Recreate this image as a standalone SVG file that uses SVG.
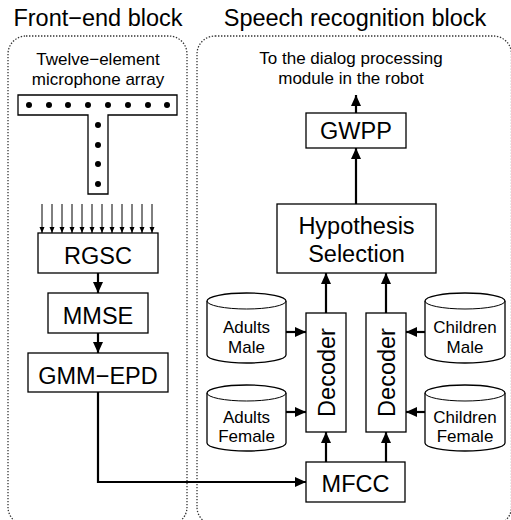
<svg xmlns="http://www.w3.org/2000/svg" width="511" height="520" viewBox="0 0 511 520">
  <style>
    .t{font-family:"Liberation Sans",Arial,Helvetica,sans-serif;fill:#000;text-anchor:middle}
    .big{font-size:23.5px}
    .small{font-size:17px}
    .box{fill:#fff;stroke:#000;stroke-width:1.3}
    .wire{stroke:#000;stroke-width:2.2;fill:none}
    .thin{stroke:#000;stroke-width:1;fill:none}
    .frame{fill:none;stroke:#333;stroke-width:1.3;stroke-dasharray:1.4 1.6}
    .dot{fill:#000}
  </style>
  <defs>
    <marker id="ah" markerUnits="userSpaceOnUse" markerWidth="12" markerHeight="12" viewBox="0 0 12 12" refX="11" refY="6" orient="auto">
      <path d="M0,1 L11,6 L0,11 z" fill="#000"/>
    </marker>
    <marker id="sah" markerUnits="userSpaceOnUse" markerWidth="7" markerHeight="7" viewBox="0 0 7 7" refX="6.5" refY="3.5" orient="auto">
      <path d="M0,0.8 L6.5,3.5 L0,6.2 z" fill="#000"/>
    </marker>
  </defs>
  <rect width="511" height="520" fill="#fff"/>

  <!-- block frames -->
  <g id="frontend-block">
    <rect class="frame" x="8" y="36" width="179" height="489" rx="18" ry="18"/>
    <text class="t big" x="98" y="26">Front−end block</text>
  </g>
  <g id="speech-block">
    <rect class="frame" x="197" y="36" width="314.5" height="489" rx="18" ry="18"/>
    <text class="t big" x="355" y="26">Speech recognition block</text>
  </g>

  <!-- microphone array -->
  <g id="mic-array">
    <text class="t small" x="98" y="65">Twelve−element</text>
    <text class="t small" x="98" y="85">microphone array</text>
    <path class="box" d="M18,95 H177 V115 H108 V194 H88 V115 H18 Z"/>
    <g class="dot">
      <circle cx="29" cy="105" r="3"/><circle cx="49" cy="105" r="3"/>
      <circle cx="68" cy="105" r="3"/><circle cx="88" cy="105" r="3"/>
      <circle cx="108" cy="105" r="3"/><circle cx="128" cy="105" r="3"/>
      <circle cx="148" cy="105" r="3"/><circle cx="167" cy="105" r="3"/>
      <circle cx="98" cy="125" r="3"/><circle cx="98" cy="145" r="3"/>
      <circle cx="98" cy="164" r="3"/><circle cx="98" cy="184" r="3"/>
    </g>
  </g>

  <g id="rgsc">
    <rect class="box" x="38" y="233" width="120" height="40"/>
    <text class="t big" x="98" y="264">RGSC</text>
  </g>
  <g id="mmse">
    <rect class="box" x="48" y="293" width="100" height="40"/>
    <text class="t big" x="98" y="324">MMSE</text>
  </g>
  <g id="gmm-epd">
    <rect class="box" x="28" y="353" width="140" height="39"/>
    <text class="t big" x="98" y="384">GMM−EPD</text>
  </g>

  <g id="mfcc">
    <rect class="box" x="306" y="462" width="99" height="40"/>
    <text class="t big" x="355.5" y="492">MFCC</text>
  </g>
  <g id="decoder-adults">
    <rect class="box" x="306" y="313" width="40" height="119"/>
    <text class="t big" transform="translate(334.5,372.5) rotate(-90)">Decoder</text>
  </g>
  <g id="decoder-children">
    <rect class="box" x="366" y="313" width="40" height="119"/>
    <text class="t big" transform="translate(394.5,372.5) rotate(-90)">Decoder</text>
  </g>
  <g id="hypothesis-selection">
    <rect class="box" x="277" y="204" width="159" height="69"/>
    <text class="t big" x="356.5" y="234">Hypothesis</text>
    <text class="t big" x="356.5" y="262">Selection</text>
  </g>
  <g id="gwpp">
    <rect class="box" x="306" y="113" width="100" height="35"/>
    <text class="t big" x="356" y="139">GWPP</text>
  </g>
  <g id="output-label">
    <text class="t small" x="351" y="64">To the dialog processing</text>
    <text class="t small" x="351" y="84">module in the robot</text>
  </g>

  <!-- acoustic model databases -->
  <g id="db-adults-male">
    <path class="box" d="M207,301 A39.5,8 0 0 1 286,301 V355 A39.5,8 0 0 1 207,355 Z"/>
    <path class="thin" d="M207,301 A39.5,8 0 0 0 286,301"/>
    <text class="t small" x="246.5" y="333">Adults</text>
    <text class="t small" x="246.5" y="353">Male</text>
  </g>
  <g id="db-adults-female">
    <path class="box" d="M207,393 A39.5,8 0 0 1 286,393 V443 A39.5,8 0 0 1 207,443 Z"/>
    <path class="thin" d="M207,393 A39.5,8 0 0 0 286,393"/>
    <text class="t small" x="246.5" y="423">Adults</text>
    <text class="t small" x="246.5" y="442">Female</text>
  </g>
  <g id="db-children-male">
    <path class="box" d="M425,301 A40,8 0 0 1 505,301 V355 A40,8 0 0 1 425,355 Z"/>
    <path class="thin" d="M425,301 A40,8 0 0 0 505,301"/>
    <text class="t small" x="465" y="333">Children</text>
    <text class="t small" x="465" y="353">Male</text>
  </g>
  <g id="db-children-female">
    <path class="box" d="M425,393 A40,8 0 0 1 505,393 V443 A40,8 0 0 1 425,443 Z"/>
    <path class="thin" d="M425,393 A40,8 0 0 0 505,393"/>
    <text class="t small" x="465" y="423">Children</text>
    <text class="t small" x="465" y="442">Female</text>
  </g>

  <!-- connectors -->
  <g id="connectors">
    <g class="thin" marker-end="url(#sah)">
      <line x1="42" y1="204" x2="42" y2="233"/><line x1="52" y1="204" x2="52" y2="233"/>
      <line x1="62" y1="204" x2="62" y2="233"/><line x1="72" y1="204" x2="72" y2="233"/>
      <line x1="82" y1="204" x2="82" y2="233"/><line x1="92" y1="204" x2="92" y2="233"/>
      <line x1="102" y1="204" x2="102" y2="233"/><line x1="112" y1="204" x2="112" y2="233"/>
      <line x1="122" y1="204" x2="122" y2="233"/><line x1="132" y1="204" x2="132" y2="233"/>
      <line x1="142" y1="204" x2="142" y2="233"/><line x1="152" y1="204" x2="152" y2="233"/>
    </g>
    <g class="wire" marker-end="url(#ah)">
      <line x1="98" y1="273" x2="98" y2="293"/>
      <line x1="98" y1="333" x2="98" y2="353"/>
      <path d="M98,392 V482 H306"/>
      <line x1="326" y1="462" x2="326" y2="432"/>
      <line x1="386" y1="462" x2="386" y2="432"/>
      <line x1="326" y1="313" x2="326" y2="273"/>
      <line x1="386" y1="313" x2="386" y2="273"/>
      <line x1="356" y1="204" x2="356" y2="148"/>
      <line x1="356" y1="113" x2="356" y2="95"/>
      <line x1="286" y1="332" x2="306" y2="332"/>
      <line x1="286" y1="412" x2="306" y2="412"/>
      <line x1="425" y1="332" x2="406" y2="332"/>
      <line x1="425" y1="412" x2="406" y2="412"/>
    </g>
  </g>
</svg>
